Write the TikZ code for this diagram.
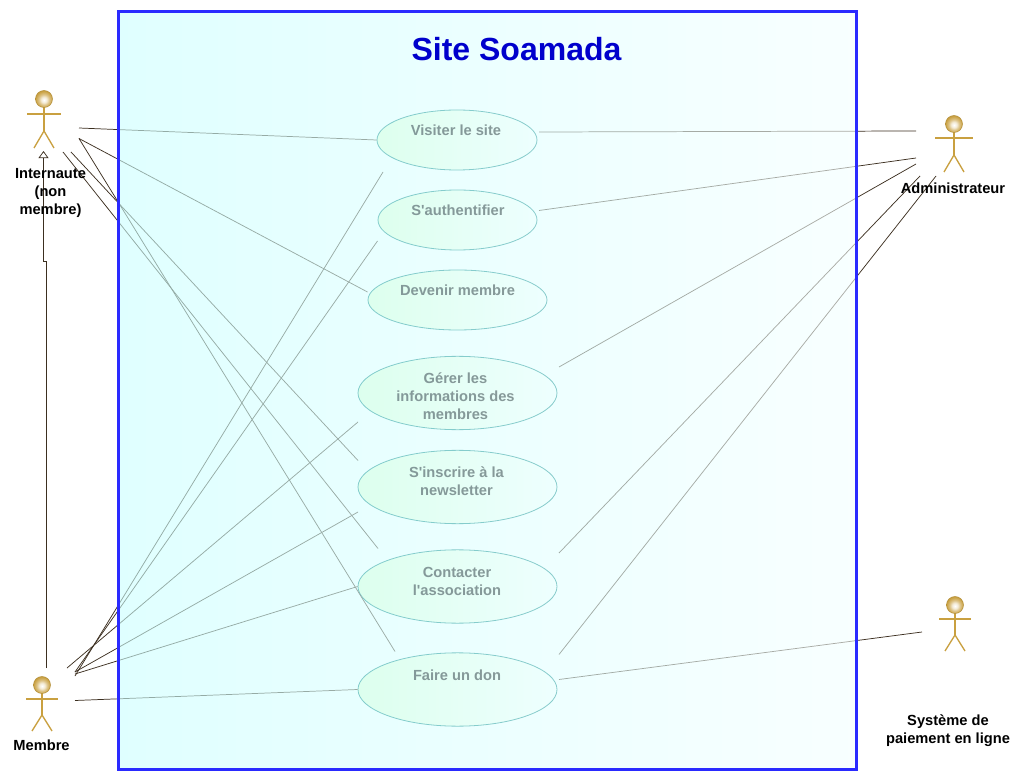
\documentclass[tikz,border=0pt]{standalone}
\usepackage{fontspec}
\setmainfont{Liberation Sans}[Ligatures=TeXOff]
\usetikzlibrary{arrows.meta,shapes.geometric}
\definecolor{wire}{HTML}{3C2F20}
\definecolor{gold}{HTML}{C9A040}
\definecolor{framec}{HTML}{2A2AFF}
\definecolor{titlec}{HTML}{0000CC}
\definecolor{ucline}{HTML}{008080}
\definecolor{ucleft}{HTML}{E4FFD4}
\definecolor{veilleft}{HTML}{CBFFFF}
\definecolor{veilright}{HTML}{F4FFFF}
\pgfdeclareradialshading{actorhead}{\pgfpoint{0bp}{-3bp}}{%
  color(0bp)=(white); color(8bp)=(white!80!gold); color(16bp)=(white!35!gold); color(25bp)=(gold); color(50bp)=(gold!80!black)}
\tikzset{
  uc/.style={ellipse,draw=ucline,line width=0.6pt,left color=ucleft,right color=white,inner sep=0pt},
  uctext/.style={align=center,font=\bfseries\fontsize{11}{13.5}\selectfont,text=black,inner sep=0pt},
  actortext/.style={align=center,font=\bfseries\fontsize{11}{13.5}\selectfont,text=black,inner sep=0pt},
  wirec/.style={draw=wire,line width=0.55pt},
  limb/.style={draw=gold,line width=1pt},
  head/.style={draw=gold!90!black,line width=0.4pt,shading=actorhead},
}
\newcommand{\actorfig}[6]{% cx, head y, arm half, arm y, hip y, foot y
  \draw[limb] (#1,#2) -- (#1,#5);
  \draw[limb] (#1-#3,#4) -- (#1+#3,#4);
  \draw[limb] (#1-10,#6) -- (#1,#5) -- (#1+10,#6);
  \path[head] (#1,#2) circle (8.5);
}
\begin{document}
\begin{tikzpicture}[x=0.75pt,y=-0.75pt]
\path[fill=white] (0,0) rectangle (1026,781);
\useasboundingbox (0,0) rectangle (1026,781);
% use cases
\node[uc,minimum width=120pt,minimum height=45pt] (visit) at (457,140) {};
\node[uc,minimum width=119.25pt,minimum height=45pt] (auth) at (457.5,220) {};
\node[uc,minimum width=134.25pt,minimum height=45pt] (dev) at (457.5,300) {};
\node[uc,minimum width=149.25pt,minimum height=55pt] (ger) at (457.5,393) {};
\node[uc,minimum width=149.25pt,minimum height=55pt] (ins) at (457.5,487) {};
\node[uc,minimum width=149.25pt,minimum height=55pt] (con) at (457.5,586.5) {};
\node[uc,minimum width=149.25pt,minimum height=55pt] (don) at (457.5,689.5) {};
\node[uctext] (visitt) at (456,130.5) {Visiter le site};
\node[uctext] (autht) at (458,210.5) {S'authentifier};
\node[uctext] (devt) at (457.5,290.5) {Devenir membre};
\node[uctext] (gert) at (455.5,396) {Gérer les\\informations des\\membres};
\node[uctext] (inst) at (456.5,481) {S'inscrire à la\\newsletter};
\node[uctext] (cont) at (457,581) {Contacter\\l'association};
\node[uctext] (dont) at (457,675.5) {Faire un don};
% connector ends
\coordinate (ia) at (79,128);
\coordinate (ib) at (79,138.5);
\coordinate (ic) at (71,152);
\coordinate (id) at (63,152);
\coordinate (ma) at (67,668);
\coordinate (mb) at (75,672);
\coordinate (mc) at (75,676);
\coordinate (md) at (75,674);
\coordinate (me) at (75,700.5);
\coordinate (aa) at (916,131);
\coordinate (ab) at (916,158);
\coordinate (ac) at (916,164);
\coordinate (ad) at (920,176);
\coordinate (ae) at (936,176);
\coordinate (sa) at (922,632);
\coordinate (visitE) at (539,132);
\coordinate (visitS) at (383,172);
\coordinate (authE) at (539,210.5);
\coordinate (authS) at (377.5,241);
\coordinate (devW) at (367.5,292);
\coordinate (gerW) at (358,422);
\coordinate (gerE) at (559,367);
\coordinate (insWa) at (358,460.5);
\coordinate (insWb) at (358,512);
\coordinate (conN) at (378,548.5);
\coordinate (conE) at (559,553);
\coordinate (donN) at (395,651.5);
\coordinate (donEa) at (559,654.5);
\coordinate (donEb) at (559,679.5);
\coordinate (genA) at (46.5,668);
\coordinate (genB) at (46.5,261);
\coordinate (genC) at (43.5,261);
\coordinate (genD) at (43.5,151);
% connectors
\draw[wirec] (ia) -- (visit.west);
\draw[wirec] (ib) -- (devW);
\draw[wirec] (ib) -- (donN);
\draw[wirec] (ic) -- (insWa);
\draw[wirec] (id) -- (conN);
\draw[wirec] (ma) -- (gerW);
\draw[wirec] (mb) -- (authS);
\draw[wirec] (mb) -- (insWb);
\draw[wirec] (mc) -- (visitS);
\draw[wirec] (md) -- (con.west);
\draw[wirec] (me) -- (don.west);
\draw[wirec] (visitE) -- (aa);
\draw[wirec] (authE) -- (ab);
\draw[wirec] (gerE) -- (ac);
\draw[wirec] (conE) -- (ad);
\draw[wirec] (donEa) -- (ae);
\draw[wirec] (donEb) -- (sa);
\draw[wirec,-{Triangle[open,fill=white,length=5.3pt,width=7.5pt]}] (genA) -- (genB) -- (genC) -- (genD);
% translucent system box over the contents
\path[left color=veilleft,right color=veilright,fill opacity=0.6] (118.5,11.5) rectangle (856.5,769.5);
\draw[framec,line width=2.25pt] (118.5,11.5) rectangle (856.5,769.5);
\node[font=\bfseries\fontsize{24}{28}\selectfont,text=titlec,inner sep=0pt] (title) at (516.5,49) {Site Soamada};
% actors
\actorfig{44}{99}{17}{114}{131}{148}
\actorfig{42}{685}{16}{699}{715}{731}
\actorfig{954}{124}{19}{138}{155}{172}
\actorfig{955}{605}{16}{619}{635}{651}
\node[actortext] (inter) at (50.5,192.5) {Internaute\\(non\\membre)};
\node[actortext] (memb) at (41.5,745.5) {Membre};
\node[actortext] (admin) at (953,188.5) {Administrateur};
\node[actortext] (sys) at (948,730.5) {Système de\\paiement en ligne};
\end{tikzpicture}
\end{document}
